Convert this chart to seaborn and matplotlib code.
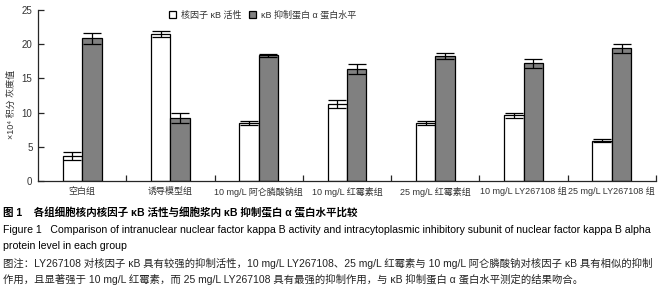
import matplotlib
matplotlib.use("Agg")
import matplotlib.pyplot as plt
import seaborn as sns
import pandas as pd
import numpy as np
from matplotlib.ticker import FixedLocator

groups = ["空白组", "诱导模型组", "10 mg/L 阿仑膦酸钠组", "10 mg/L 红霉素组",
          "25 mg/L 红霉素组", "10 mg/L LY267108 组", "25 mg/L LY267108 组"]
series = ["核因子 κB 活性", "κB 抑制蛋白 α 蛋白水平"]
nfkb_mean = [3.7, 21.5, 8.5, 11.2, 8.5, 9.6, 5.9]
nfkb_err = [0.6, 0.5, 0.3, 0.6, 0.25, 0.4, 0.2]
ikb_mean = [20.9, 9.2, 18.4, 16.4, 18.3, 17.2, 19.4]
ikb_err = [0.8, 0.7, 0.2, 0.7, 0.4, 0.7, 0.7]
yticks = [0, 5, 10, 15, 20, 25]

sns.set_style("ticks")
plt.rcParams['font.family'] = ['Liberation Sans', 'Noto Sans CJK SC', 'DejaVu Sans']

df = pd.DataFrame({
    "group": groups * 2,
    "series": [series[0]] * len(groups) + [series[1]] * len(groups),
    "value": nfkb_mean + ikb_mean,
    "err": nfkb_err + ikb_err,
})

fig = plt.figure(figsize=(6.72, 2.88), dpi=100)
ax = fig.add_axes([38 / 672, 1 - 181 / 288, 618 / 672, 171 / 288])

sns.barplot(data=df, x="group", y="value", hue="series", order=groups, hue_order=series,
            palette=["white", "#808080"], edgecolor="black", linewidth=0.9,
            width=0.44, errorbar=None, saturation=1, ax=ax)

# error bars at the centres of the bars seaborn drew
bars = [p for p in ax.patches if p.get_height() > 0]
vals = nfkb_mean + ikb_mean
errs = nfkb_err + ikb_err
for i, (v, e) in enumerate(zip(vals, errs)):
    g = i % len(groups)
    s_idx = i // len(groups)
    target = g + (-0.11 if s_idx == 0 else 0.11)
    p = min(bars, key=lambda b: abs(b.get_x() + b.get_width() / 2 - target) + abs(b.get_height() - v))
    ax.errorbar(p.get_x() + p.get_width() / 2, p.get_height(), yerr=e, fmt="none", ecolor="black",
                elinewidth=0.9, capsize=6.5, capthick=0.9, zorder=5)

ax.set_xlim(-0.5, len(groups) - 0.5)
ax.set_ylim(0, 25)
ax.set_yticks(yticks)
ax.set_xlabel("")
ax.set_ylabel("")
sns.despine(ax=ax)
for sp in ["left", "bottom"]:
    ax.spines[sp].set_linewidth(0.9)
ax.tick_params(axis="y", direction="in", length=4, width=0.9, labelsize=7, pad=4)
ax.tick_params(axis="x", which="major", length=0, labelsize=6.5, pad=4)
ax.xaxis.set_minor_locator(FixedLocator(np.arange(0.5, len(groups), 1.0)))
ax.tick_params(axis="x", which="minor", direction="in", length=4, width=0.9)
for t in ax.get_xticklabels() + ax.get_yticklabels():
    t.set_color("#333333")

handles, labels = ax.get_legend_handles_labels()
ax.legend(handles, labels, ncol=2, frameon=False, loc="center left",
          bbox_to_anchor=(0.212, 0.97), borderaxespad=0, borderpad=0,
          handlelength=0.75, handleheight=0.75, handletextpad=0.6,
          columnspacing=0.8, fontsize=6.5, labelcolor="#333333")

fig.text(11 / 672, 1 - 104 / 288, "×10⁴ 积分 灰度值", rotation=90, ha="center", va="center",
         fontsize=6.5, color="#333333")

cap_x = 3 / 672
fig.text(cap_x, 1 - 213 / 288, "图 1    各组细胞核内核因子 κB 活性与细胞浆内 κB 抑制蛋白 α 蛋白水平比较",
         fontsize=7.6, fontweight="bold", va="center", ha="left", color="black")
fig.text(cap_x, 1 - 230 / 288,
         "Figure 1   Comparison of intranuclear nuclear factor kappa B activity and intracytoplasmic inhibitory subunit of nuclear factor kappa B alpha",
         fontsize=7.55, va="center", ha="left", color="black")
fig.text(cap_x, 1 - 246 / 288, "protein level in each group",
         fontsize=7.55, va="center", ha="left", color="black")
fig.text(cap_x, 1 - 263 / 288,
         "图注：LY267108 对核因子 κB 具有较强的抑制活性，10 mg/L LY267108、25 mg/L 红霉素与 10 mg/L 阿仑膦酸钠对核因子 κB 具有相似的抑制",
         fontsize=7.45, va="center", ha="left", color="#222222")
fig.text(cap_x, 1 - 279 / 288,
         "作用，且显著强于 10 mg/L 红霉素，而 25 mg/L LY267108 具有最强的抑制作用，与 κB 抑制蛋白 α 蛋白水平测定的结果吻合。",
         fontsize=7.45, va="center", ha="left", color="#222222")

fig.savefig("out.png", dpi=100)
